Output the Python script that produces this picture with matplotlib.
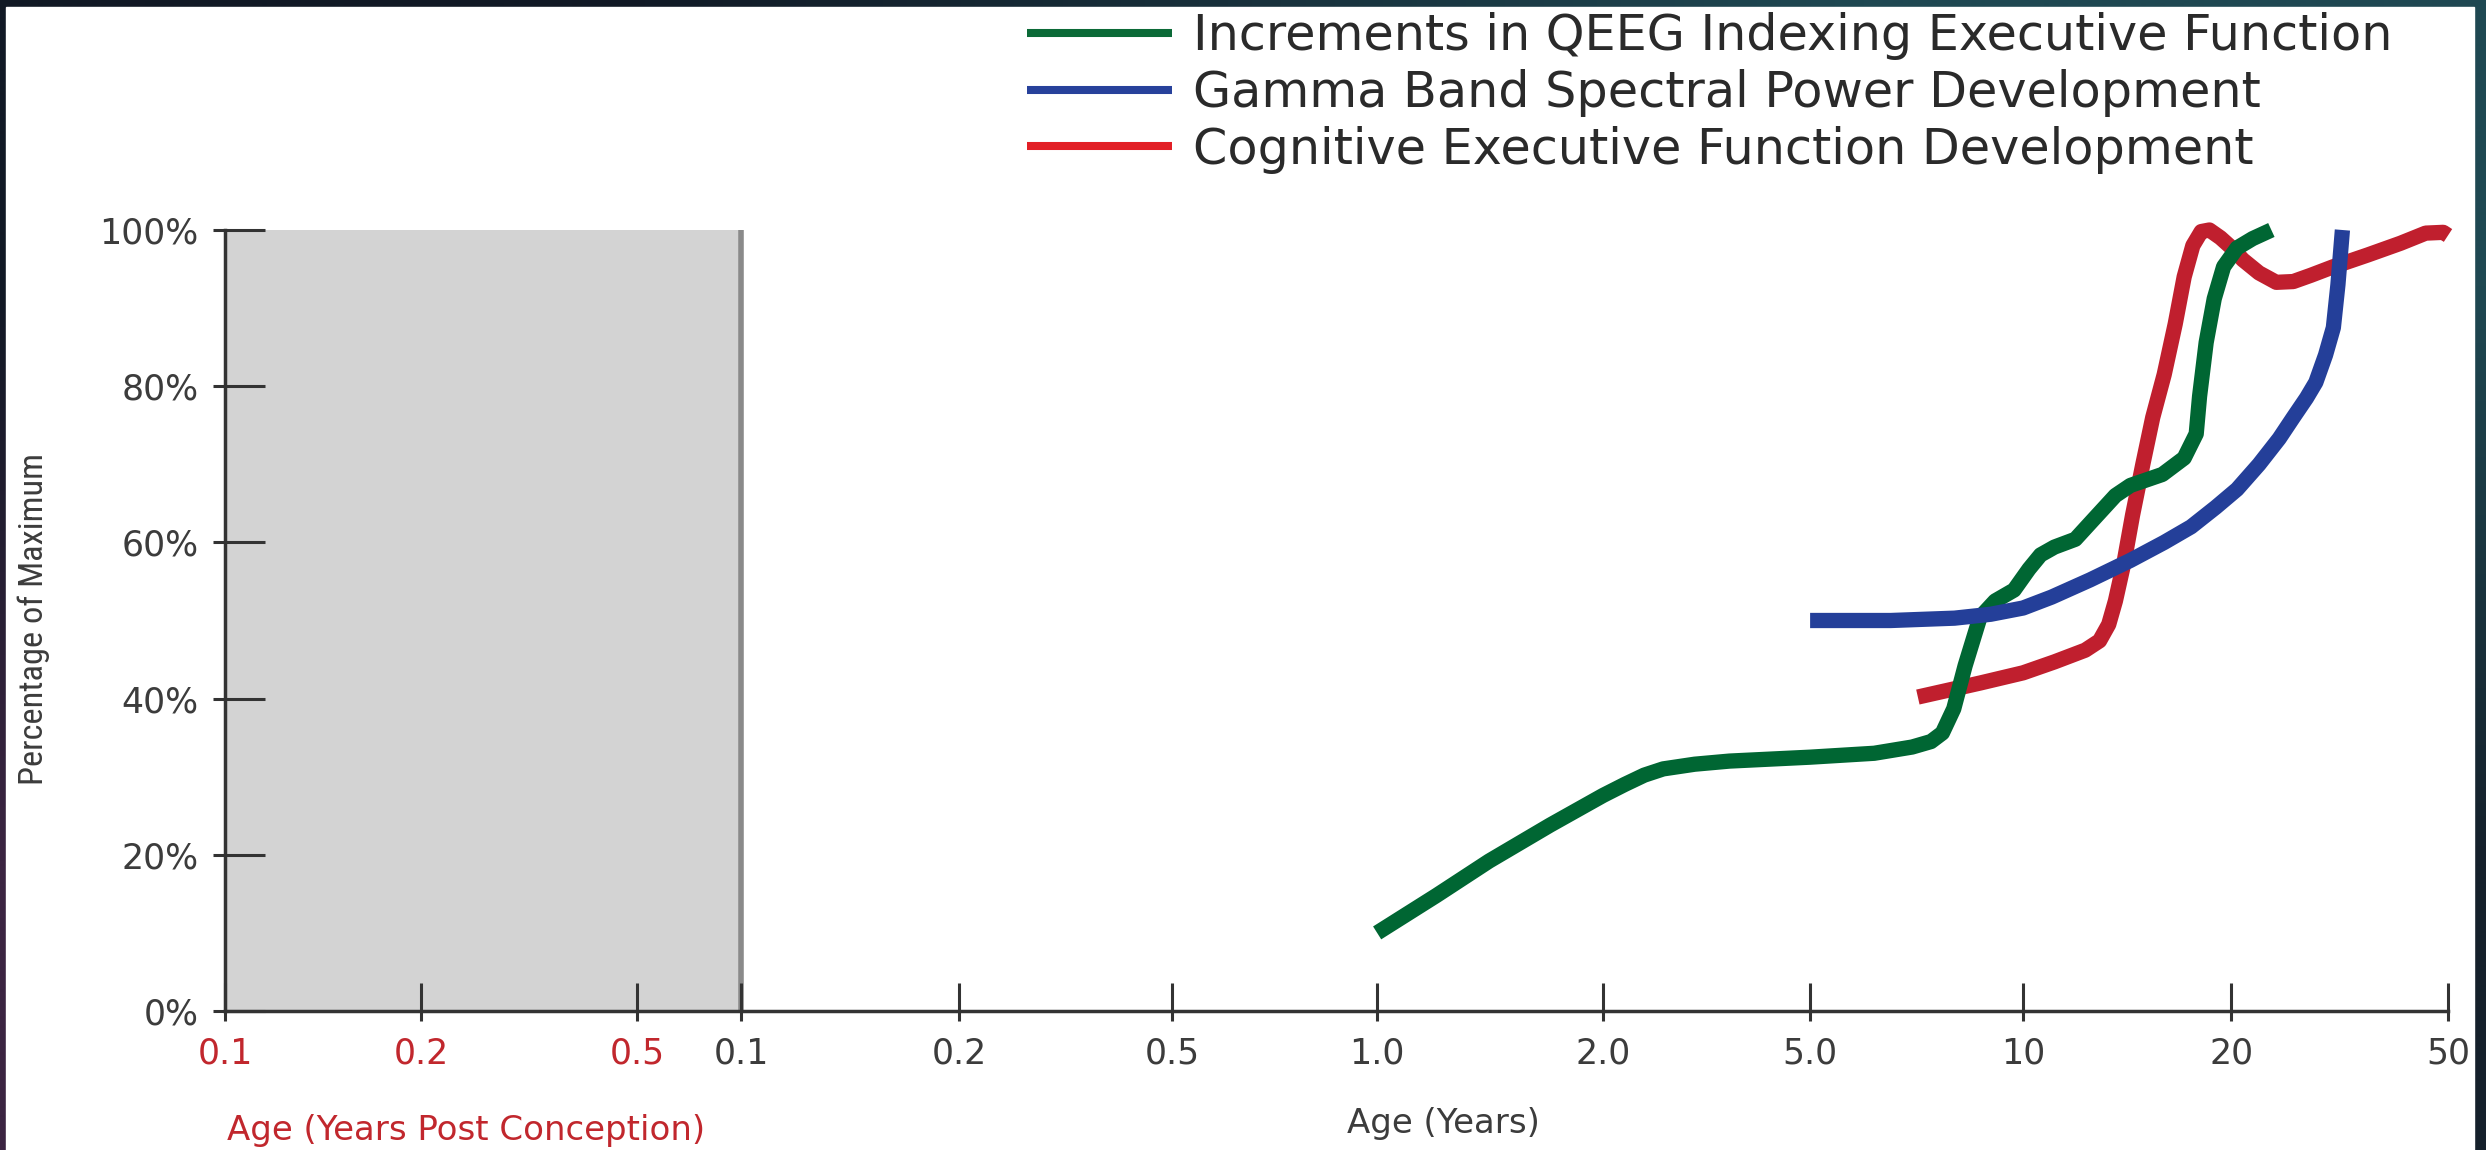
import numpy as np
import matplotlib.pyplot as plt
from matplotlib import font_manager
from matplotlib.colors import to_rgb
from matplotlib.lines import Line2D
from matplotlib.patches import Rectangle

# x axis tick labels (first three are years post conception, shown in red)
tick_labels = ["0.1", "0.2", "0.5", "0.1", "0.2", "0.5", "1.0", "2.0", "5.0", "10", "20", "50"]
# ages (years) of the postnatal part of the axis
axis_ages = [0.1, 0.2, 0.5, 1.0, 2.0, 5.0, 10, 20, 50]
y_ticks = [0, 20, 40, 60, 80, 100]
y_tick_labels = ["0%", "20%", "40%", "60%", "80%", "100%"]

series_labels = ["Increments in QEEG Indexing Executive Function",
                 "Gamma Band Spectral Power Development",
                 "Cognitive Executive Function Development"]

# green: QEEG increments
qeeg_age = [1.0, 1.2, 1.41, 1.7, 2.0, 2.2, 2.4, 2.61, 3.0, 3.5, 5.0, 6.16, 6.97, 7.41, 7.69,
            7.98, 8.28, 8.69, 9.13, 9.71, 10.2, 10.6, 11.1, 11.9, 12.6, 13.6, 14.3,
            15.9, 17.1, 17.8, 18.0, 18.4, 18.9, 19.5, 20.5, 21.9, 23.7]
qeeg_pct = [10.0, 14.8, 19.2, 23.8, 27.6, 29.0, 30.2, 31.0, 31.6, 32.0, 32.5, 33.0, 33.8, 34.5, 35.6,
            38.7, 44.2, 50.4, 52.5, 53.9, 56.6, 58.4, 59.4, 60.4, 62.8, 66.0, 67.3,
            68.7, 70.8, 73.9, 78.7, 85.6, 91.2, 95.3, 97.7, 98.9, 100.0]

# blue: gamma band spectral power
gamma_age = [5.0, 6.5, 8.0, 9.0, 10.0, 11.0, 12.5, 14.3, 16.0, 17.5, 19.0, 20.5, 22.5,
             24.5, 26.0, 27.5, 28.6, 29.8, 30.8, 31.4, 32.0]
gamma_pct = [50.0, 50.0, 50.3, 50.8, 51.6, 53.0, 55.2, 57.7, 60.0, 62.0, 64.5, 66.8, 70.0,
             73.3, 76.0, 78.5, 80.5, 84.0, 87.5, 93.0, 100.0]

# red: cognitive executive function
cog_age = [7.1, 8.7, 10.0, 11.1, 12.3, 12.9, 13.3, 13.6, 14.0, 14.4, 14.9, 15.4, 16.0,
           16.6, 17.1, 17.6, 18.1, 18.6, 19.3, 20.2, 21.0, 22.5, 24.2, 26.0, 28.0,
           30.8, 35.6, 40.9, 45.5, 49.0, 50.0]
cog_pct = [40.2, 42.0, 43.3, 44.7, 46.2, 47.4, 49.5, 52.5, 57.5, 63.5, 70.0, 76.0, 81.5,
           88.0, 94.0, 98.0, 99.8, 100.0, 99.0, 97.5, 96.2, 94.5, 93.3, 93.4, 94.2,
           95.3, 96.8, 98.3, 99.6, 99.7, 99.3]

# layout: tick positions along the drawn axis (the axis is hand-spaced, not true log)
tick_pos = [0, 0.926, 1.946, 2.437, 3.467, 4.473, 5.442, 6.509, 7.487, 8.493, 9.476, 10.5]

W, H = 2486, 1150
green, blue, red = "#006633", "#243f99", "#c01f2e"
red_text = "#c1272d"
dark = "#333333"
text_gray = "#3c3c3c"


def to_pos(age):
    return np.interp(np.log10(age), np.log10(axis_ages), tick_pos[3:])


def condensed_font():
    # look for a narrow sans face for the y axis title
    prefs = ["Roboto", "Open Sans", "Noto Sans", "Liberation Sans", "DejaVu Sans"]
    found = []
    for f in font_manager.fontManager.ttflist:
        name = f.name
        if "Mono" in name or "Serif" in name or "CJK" in name:
            continue
        if "bold" in str(f.weight).lower() or f.weight in (600, 700, 800, 900) or f.style != "normal":
            continue
        narrow = "condensed" in str(f.stretch) or "Narrow" in name or "Condensed" in name
        if narrow:
            rank = next((i for i, p in enumerate(prefs) if name.startswith(p)), len(prefs))
            found.append((rank, f.fname))
    if found:
        return font_manager.FontProperties(fname=sorted(found)[0][1])
    return font_manager.FontProperties(family="DejaVu Sans")


fig = plt.figure(figsize=(W / 100, H / 100), dpi=100)

# dark slide frame with a soft gradient
bg = fig.add_axes([0, 0, 1, 1], zorder=-10)
grad = np.array([[to_rgb("#111925"), to_rgb("#1f4852")],
                 [to_rgb("#3b2441"), to_rgb("#15202b")]])
bg.imshow(grad, extent=[0, 1, 0, 1], aspect="auto", interpolation="bilinear")
bg.add_patch(Rectangle((6 / W, 0), (2474 - 6) / W, (H - 7) / H, color="white"))
bg.set_xlim(0, 1)
bg.set_ylim(0, 1)
bg.axis("off")

ax = fig.add_axes([225 / W, 1 - 1011 / H, (2448 - 225) / W, (1011 - 230) / H])
ax.patch.set_alpha(0)

# prenatal shaded block and its boundary
ax.add_patch(Rectangle((0, 0), tick_pos[3], 100, facecolor="#d3d3d3", edgecolor="none", zorder=0))
ax.axvline(tick_pos[3], color="#8a8a8a", lw=4, zorder=1)

lw = 11
ax.plot(to_pos(qeeg_age), qeeg_pct, color=green, lw=lw, solid_capstyle="butt",
        solid_joinstyle="round", clip_on=False, zorder=3)
ax.plot(to_pos(gamma_age), gamma_pct, color=blue, lw=lw, solid_capstyle="butt",
        solid_joinstyle="round", clip_on=False, zorder=3)
ax.plot(to_pos(cog_age), cog_pct, color=red, lw=lw, solid_capstyle="butt",
        solid_joinstyle="round", clip_on=False, zorder=2)

ax.set_xlim(0, tick_pos[-1])
ax.set_ylim(0, 100)
for side in ["top", "right"]:
    ax.spines[side].set_visible(False)
for side in ["left", "bottom"]:
    ax.spines[side].set_linewidth(2.5)
    ax.spines[side].set_color(dark)

ax.set_xticks(tick_pos)
ax.set_xticklabels(tick_labels)
ax.set_yticks(y_ticks)
ax.set_yticklabels(y_tick_labels)
ax.set_xticks(tick_pos, minor=True)
ax.set_yticks(y_ticks, minor=True)
ax.xaxis.remove_overlapping_locs = False
ax.yaxis.remove_overlapping_locs = False
ax.tick_params(axis="y", which="major", direction="in", length=29, width=2.2, color=dark,
               pad=19, labelsize=25, labelcolor=text_gray)
ax.tick_params(axis="y", which="minor", direction="out", length=8.5, width=2.2, color=dark)
ax.tick_params(axis="x", which="major", direction="in", length=20, width=2.2, color=dark,
               pad=18, labelsize=25, labelcolor=text_gray)
ax.tick_params(axis="x", which="minor", direction="out", length=7, width=2.2, color=dark)
for lab in ax.get_xticklabels()[:3]:
    lab.set_color(red_text)

# axis titles
yprop = condensed_font()
yprop.set_size(30)
ylab = fig.text(34 / W, 1 - 619 / H, "Percentage of Maximum", rotation=90, ha="center",
                va="center", fontproperties=yprop, color=text_gray)
fig.canvas.draw()
span = ylab.get_window_extent().height
ylab.set_fontsize(30 * 332 / span)

fig.text(227 / W, 1 - 1140 / H, "Age (Years Post Conception)", ha="left", va="baseline",
         fontsize=24.5, color=red_text)
fig.text(1443 / W, 1 - 1133 / H, "Age (Years)", ha="center", va="baseline",
         fontsize=24.5, color=text_gray)

handles = [Line2D([], [], color="#0b6a37", lw=5.8, solid_capstyle="butt"),
           Line2D([], [], color="#27419b", lw=5.8, solid_capstyle="butt"),
           Line2D([], [], color="#e21f26", lw=5.8, solid_capstyle="butt")]
fig.legend(handles, series_labels, loc="upper left", bbox_to_anchor=(1027 / W, 1 - 12 / H),
           frameon=False, fontsize=35.5, handlelength=2.95, handletextpad=0.42,
           labelspacing=0.18, borderpad=0, borderaxespad=0, labelcolor="#2a2a2a")

fig.savefig("out.png", dpi=100)
